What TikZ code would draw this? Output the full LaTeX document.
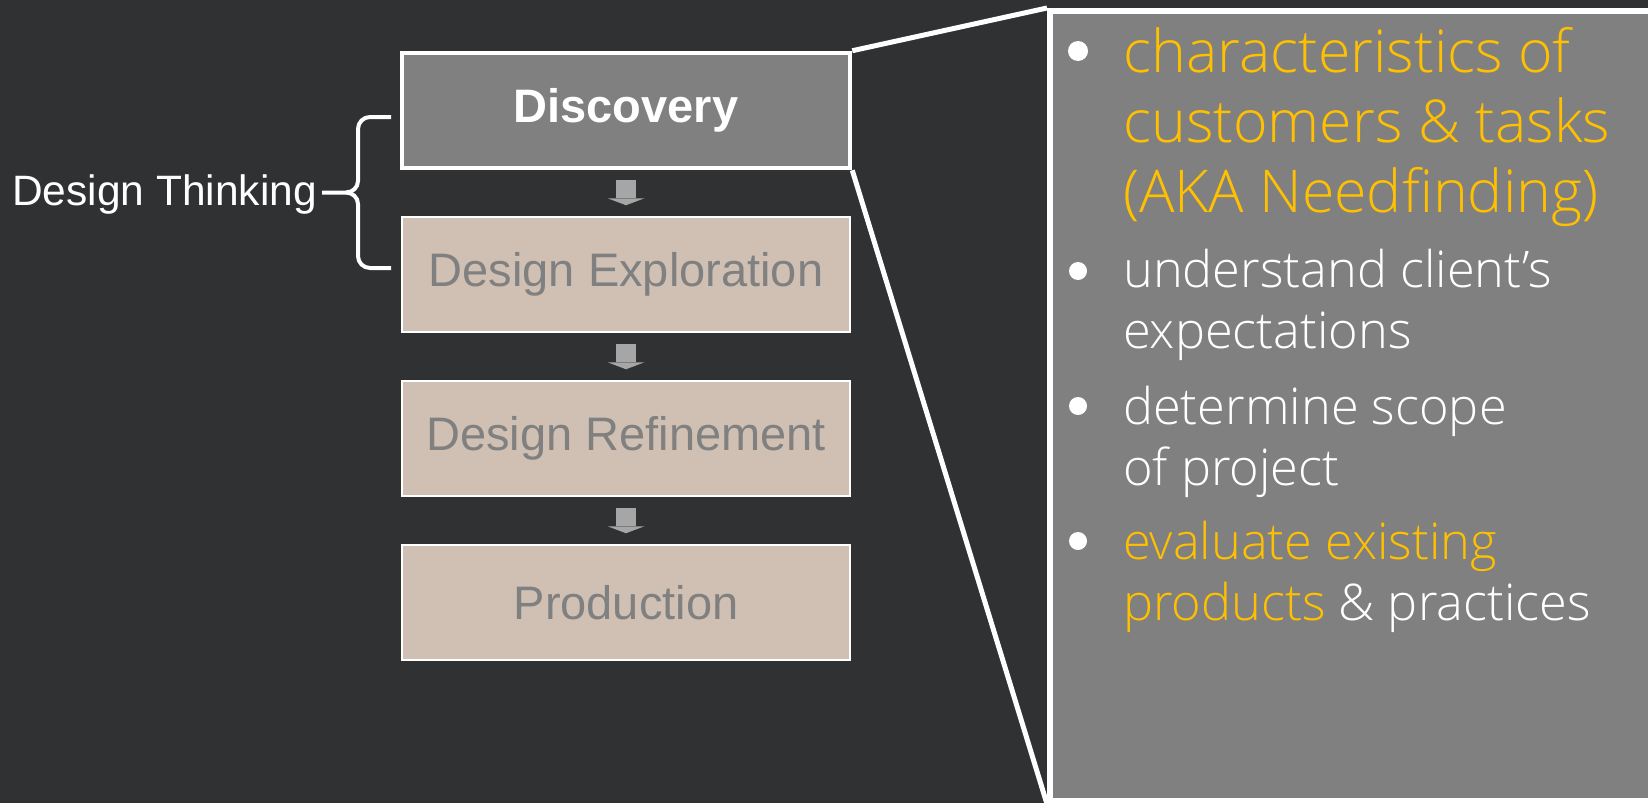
\documentclass[tikz,border=0pt]{standalone}
\usepackage{fontspec}
\setmainfont{Liberation Sans}
\newfontfamily\lightfont{Open Sans Light}
\usetikzlibrary{positioning,arrows.meta}
\definecolor{slate}{RGB}{48,49,51}
\definecolor{midgray}{RGB}{128,128,128}
\definecolor{sand}{RGB}{207,192,179}
\definecolor{arrowgray}{RGB}{166,166,166}
\definecolor{amber}{RGB}{255,192,0}
\tikzset{
  stepbox/.style={draw=white, line width=2pt, fill=sand, text=midgray,
    minimum width=448pt, minimum height=115pt, inner sep=0pt,
    font=\fontsize{47}{55}\selectfont},
  flowarrow/.style={draw=arrowgray, line width=20pt,
    -{Triangle[width=37pt,length=7pt,line width=0pt]}},
  bulletdot/.style={circle, fill=white, minimum size=18pt, inner sep=0pt},
  itemtext/.style={anchor=base west, align=left, inner sep=0pt, text=white,
    font=\lightfont\fontsize{50.5}{61}\selectfont},
}
\begin{document}
\begin{tikzpicture}[x=1pt,y=-1pt]
  \useasboundingbox (0,0) rectangle (1648,803);
  \fill[slate] (0,0) rectangle (1648,803);
  % the four phases
  \node[stepbox, fill=midgray, text=white, line width=4.5pt, font=\bfseries\fontsize{47}{55}\selectfont] (disc) at (626,110.5) {Discovery};
  \node[stepbox, below=46pt of disc] (expl) {Design Exploration};
  \node[stepbox, below=47pt of expl] (refi) {Design Refinement};
  \node[stepbox, below=47pt of refi] (prod) {Production};
  \draw[flowarrow] ([yshift=-10pt]disc.south) -- ([yshift=11pt]expl.north);
  \draw[flowarrow] ([yshift=-11pt]expl.south) -- ([yshift=11pt]refi.north);
  \draw[flowarrow] ([yshift=-11pt]refi.south) -- ([yshift=11pt]prod.north);
  % brace
  \node[anchor=base west, inner sep=0pt, text=white, font=\fontsize{42.5}{50}\selectfont] (think) at (12,205) {Design Thinking};
  \draw[white, line width=4pt] (391,117) -- (370,117) to[out=180,in=90] (358,129) -- (358,181) to[out=-90,in=0] (346,192.5) -- (322,192.5);
  \draw[white, line width=4pt] (391,268) -- (370,268) to[out=180,in=-90] (358,256) -- (358,204) to[out=90,in=0] (346,192.5);
  % zoomed panel
  \begin{scope}
    \clip (0,0) rectangle (1648,803);
    \node[draw=white, line width=6pt, fill=midgray, minimum width=610pt, minimum height=790pt, inner sep=0pt] (panel) at (1355,406) {};
  \end{scope}
  \draw[white, line width=5pt] (disc.north east) -- (panel.north west);
  \draw[white, line width=5pt] (disc.south east) -- (panel.south west);
  \node[bulletdot, minimum size=20pt] (b1) at (1078,51) {};
  \node[itemtext, text=amber, font=\lightfont\fontsize{59}{70}\selectfont] (t1) at (1123,212) {characteristics of\\customers \& tasks\\(AKA Needfinding)};
  \node[bulletdot] (b2) at (1078,271) {};
  \node[itemtext] (t2) at (1123,348) {understand client’s\\expectations};
  \node[bulletdot] (b3) at (1078,406) {};
  \node[itemtext] (t3) at (1123,485) {determine scope\\of project};
  \node[bulletdot] (b4) at (1078,541) {};
  \node[itemtext] (t4) at (1123,620) {\textcolor{amber}{evaluate existing}\\\textcolor{amber}{products} \& practices};
\end{tikzpicture}
\end{document}
